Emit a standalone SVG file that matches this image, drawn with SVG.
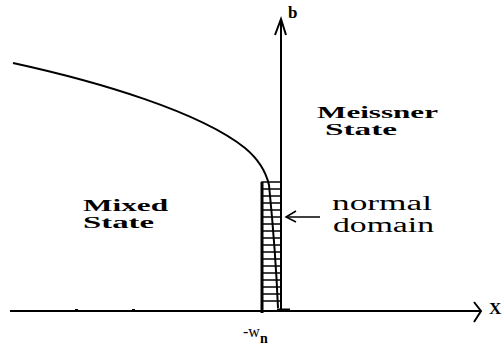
<svg xmlns="http://www.w3.org/2000/svg" width="502" height="347" viewBox="0 0 502 347">
<style>
.ax{stroke:#000;stroke-width:2;fill:none}
.ln{stroke:#000;fill:none}
.bl{font-family:"Liberation Serif",serif;font-weight:bold;fill:#000}
.nm{font-family:"Liberation Serif",serif;fill:#000}
</style>
<rect width="502" height="347" fill="#fff"/>
<g id="axes">
<line class="ax" x1="10" y1="311" x2="480" y2="311"/>
<polyline class="ax" points="474,302 481,311 474,322"/>
<line class="ax" x1="281" y1="20" x2="281" y2="311"/>
<polyline class="ax" points="275,35 281,19 286,35"/>
<rect x="75" y="309" width="3" height="2" fill="#000"/>
<rect x="132" y="309" width="3" height="2" fill="#000"/>
</g>
<g id="curve">
<path class="ln" stroke-width="2" d="M13,63 C100,82 200,112 245,148 C257,158 266,172 269,185 C272,215 276,260 278,308"/>
<path class="ln" stroke-width="3" d="M277,310 L290,310"/>
</g>
<g id="normal-domain">
<rect x="262" y="182" width="19" height="129" class="ln" stroke-width="1.5"/>
<line class="ln" stroke-width="3" x1="262" y1="182" x2="262" y2="313"/>
<g class="ln" stroke-width="1.5">
<line x1="262" y1="189" x2="281" y2="189"/>
<line x1="262" y1="196" x2="281" y2="196"/>
<line x1="262" y1="203" x2="281" y2="203"/>
<line x1="262" y1="210" x2="281" y2="210"/>
<line x1="262" y1="217" x2="281" y2="217"/>
<line x1="262" y1="224" x2="281" y2="224"/>
<line x1="262" y1="231" x2="281" y2="231"/>
<line x1="262" y1="238" x2="281" y2="238"/>
<line x1="262" y1="245" x2="281" y2="245"/>
<line x1="262" y1="252" x2="281" y2="252"/>
<line x1="262" y1="259" x2="281" y2="259"/>
<line x1="262" y1="266" x2="281" y2="266"/>
<line x1="262" y1="273" x2="281" y2="273"/>
<line x1="262" y1="280" x2="281" y2="280"/>
<line x1="262" y1="287" x2="281" y2="287"/>
<line x1="262" y1="294" x2="281" y2="294"/>
<line x1="262" y1="301" x2="281" y2="301"/>
</g>
</g>
<g id="pointer">
<line class="ln" stroke-width="1.5" x1="286" y1="217" x2="320" y2="217"/>
<polyline class="ln" stroke-width="1.5" points="296,211 286,217 296,222"/>
</g>
<g id="labels">
<text class="bl" x="288" y="18" font-size="17">b</text>
<text class="bl" x="489" y="314" font-size="17">X</text>
<text class="bl" x="317" y="118" font-size="16" textLength="121" lengthAdjust="spacingAndGlyphs">Meissner</text>
<text class="bl" x="325" y="135" font-size="16" textLength="72" lengthAdjust="spacingAndGlyphs">State</text>
<text class="bl" x="83" y="211" font-size="16" textLength="85" lengthAdjust="spacingAndGlyphs">Mixed</text>
<text class="bl" x="83" y="228" font-size="16" textLength="71" lengthAdjust="spacingAndGlyphs">State</text>
<text class="nm" x="332" y="210" font-size="20" textLength="100" lengthAdjust="spacingAndGlyphs">normal</text>
<text class="nm" x="333" y="232" font-size="20" textLength="101" lengthAdjust="spacingAndGlyphs">domain</text>
<text class="nm" x="243" y="337" font-size="16">-w<tspan class="bl" dy="6" font-size="14">n</tspan></text>
</g>
</svg>
